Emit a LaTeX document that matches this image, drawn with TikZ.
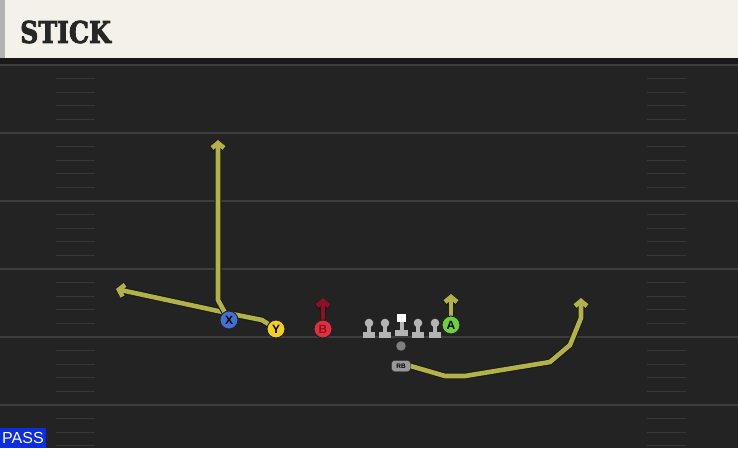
\documentclass[tikz,border=0pt]{standalone}
\usepackage{fontspec}
\setsansfont{Liberation Sans}
\newfontfamily\headfont{DejaVu Serif}[FakeBold=3]
\usetikzlibrary{arrows.meta,positioning}
\definecolor{fieldbg}{HTML}{232323}
\definecolor{yardline}{HTML}{3D3D3D}
\definecolor{hashclr}{HTML}{363636}
\definecolor{headbg}{HTML}{F4F1EA}
\definecolor{routeclr}{HTML}{B3B14A}
\definecolor{routeedge}{HTML}{1C1C12}
\definecolor{xblue}{HTML}{3F72D9}
\definecolor{yyellow}{HTML}{F2CF22}
\definecolor{bred}{HTML}{E0303C}
\definecolor{bdark}{HTML}{8E1027}
\definecolor{agreen}{HTML}{6BD13C}
\definecolor{passblue}{HTML}{0B2EE0}
\definecolor{linegray}{HTML}{B4B4B4}
\pgfdeclarelayer{field}
\pgfdeclarelayer{routes}
\pgfsetlayers{field,routes,main}

\begin{document}
\begin{tikzpicture}[x=1pt, y=-1pt,
  player/.style={circle, draw=black!85, line width=1pt, minimum size=18pt, inner sep=0pt, font=\sffamily\bfseries\fontsize{12}{12}\selectfont},
  route/.style={draw=routeclr, line width=4.6pt, line join=round, preaction={draw=routeedge, line width=6.8pt}, -{Straight Barb[length=5pt, width=12pt]}},
  hash/.style={hashclr, line width=1.2pt}]
\useasboundingbox (0,0) rectangle (738,448);

\begin{pgfonlayer}{field}
% field and header
\fill[fieldbg] (0,0) rectangle (738,448);
\fill[black!90] (0,58) rectangle (738,65);
\fill[headbg] (0,0) rectangle (738,58);
\fill[black!30] (0,0) rectangle (5,58);
\node[anchor=west, font=\headfont\bfseries\fontsize{30}{31}\selectfont, text=black!85, inner sep=0pt] (title) at (20,32) {\scalebox{0.84}[1]{STICK}};
% yard lines and hash marks
\foreach \y in {65,133,201,269,337,405}
  \draw[yardline, line width=1.5pt] (0,\y) -- (738,\y);
\foreach \y in {65,133,201,269,337,405}
  \foreach \k in {1,2,3,4}
    \draw[hash] (56,\y+13.6*\k) -- (95,\y+13.6*\k) (647,\y+13.6*\k) -- (686,\y+13.6*\k);
\node[fill=passblue, text=white, font=\sffamily\fontsize{16}{16}\selectfont, anchor=south west, inner sep=2pt, minimum height=20pt] (pass) at (0,448) {PASS};
\end{pgfonlayer}

% players
\node[player, fill=xblue] (X) at (229,320) {X};
\node[player, fill=yyellow] (Y) at (276,329) {Y};
\node[player, fill=bred, text=bdark] (B) at (323,329) {B};
\node[player, fill=agreen] (A) at (451,325) {A};
\node[circle, fill=black!50, draw=black!80, minimum size=10pt, inner sep=0pt] (QB) at (401,346) {};
\node[rounded corners=3pt, fill=black!40, draw=black!80, font=\sffamily\bfseries\fontsize{6.5}{6.5}\selectfont, inner sep=1.5pt, minimum width=19pt, minimum height=11pt] (RB) at (401,366) {RB};

% linemen
\foreach \x in {369,385,418,435} {
  \fill[linegray] (\x,323) circle (4.3);
  \fill[linegray] (\x-2,323) rectangle (\x+2,333);
  \fill[linegray] (\x-6.2,332) rectangle (\x+6.2,338);
}
\fill[white] (397,314) rectangle (406,322);
\fill[linegray] (399.5,322) rectangle (403.5,331);
\fill[linegray] (395.3,330) rectangle (407.7,336);

% route points
\coordinate (xb) at (218,300);
\coordinate (xe) at (218,140);
\coordinate (yb) at (262,320);
\coordinate (yc) at (232,314);
\coordinate (ye) at (116,289);
\coordinate (be) at (323,298);
\coordinate (ae) at (451,294);
\coordinate (r1) at (445,376);
\coordinate (r2) at (465,376);
\coordinate (r3) at (550,362);
\coordinate (r4) at (570,345);
\coordinate (r5) at (581,318);
\coordinate (re) at (581,298);

\begin{pgfonlayer}{routes}
\draw[route] (Y.center) -- (yb) -- (yc) -- (ye);
\draw[route] (X.center) -- (xb) -- (xe);
\draw[route] (A) -- (ae);
\draw[route, draw=bdark] (B) -- (be);
\draw[route] (RB.east) -- (r1) -- (r2) -- (r3) -- (r4) -- (r5) -- (re);
\end{pgfonlayer}
\end{tikzpicture}
\end{document}
